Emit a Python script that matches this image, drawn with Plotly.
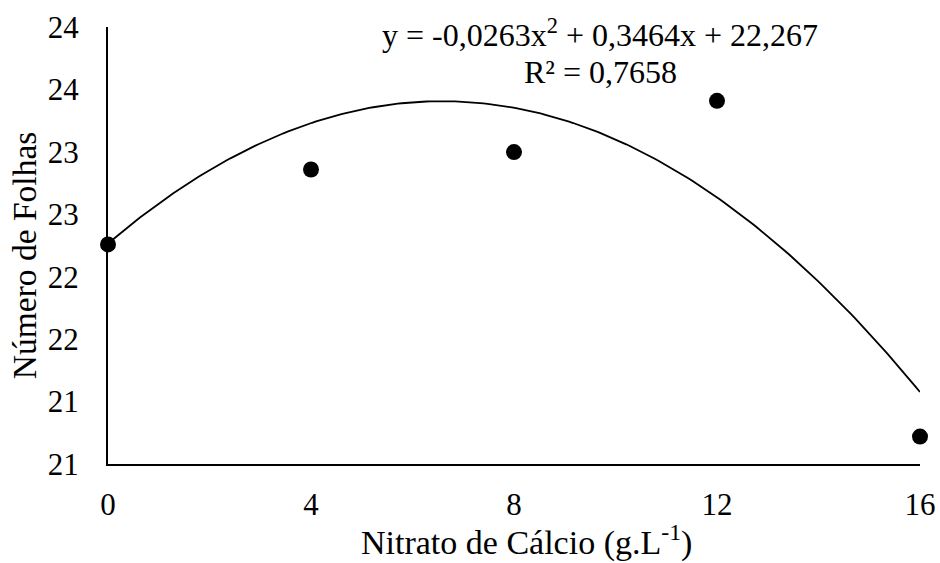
import numpy as np
import plotly.graph_objects as go

# Data
doses = [0, 4, 8, 12, 16]
folhas = [22.26, 22.86, 23.00, 23.41, 20.72]

# Trendline coefficients (as shown in equation)
coef_a = -0.0263
coef_b = 0.3464
coef_c = 22.267

y_tickvals = [20.5, 21.0, 21.5, 22.0, 22.5, 23.0, 23.5, 24.0]
y_ticktext = ["21", "21", "22", "22", "23", "23", "24", "24"]
x_tickvals = [0, 4, 8, 12, 16]

xs = np.linspace(0, 16, 200)
ys = coef_a * xs**2 + coef_b * xs + coef_c

font_family = "Liberation Serif, Times New Roman, serif"

fig = go.Figure()
fig.add_trace(go.Scatter(x=xs, y=ys, mode="lines",
                         line=dict(color="black", width=1.8),
                         showlegend=False, hoverinfo="skip"))
fig.add_trace(go.Scatter(x=doses, y=folhas, mode="markers",
                         marker=dict(color="black", size=16),
                         showlegend=False, cliponaxis=False))

fig.add_annotation(x=0.606, y=0.986, xref="paper", yref="paper",
                   text="y = -0,0263x<sup>2</sup> + 0,3464x + 22,267",
                   showarrow=False, xanchor="center", yanchor="middle",
                   font=dict(family=font_family, size=32, color="black"))
fig.add_annotation(x=0.606, y=0.897, xref="paper", yref="paper",
                   text="R² = 0,7658",
                   showarrow=False, xanchor="center", yanchor="middle",
                   font=dict(family=font_family, size=32, color="black"))

# Axis titles as annotations (positioned as in the reference)
fig.add_annotation(x=-0.1034, y=0.478, xref="paper", yref="paper",
                   text="Número de Folhas", textangle=-90,
                   showarrow=False, xanchor="center", yanchor="middle",
                   font=dict(family=font_family, size=33.5, color="black"))
fig.add_annotation(x=0.516, y=-0.176, xref="paper", yref="paper",
                   text="Nitrato de Cálcio (g.L<sup>-1</sup>)",
                   showarrow=False, xanchor="center", yanchor="middle",
                   font=dict(family=font_family, size=34, color="black"))

fig.update_layout(
    width=940, height=563,
    margin=dict(l=108, r=20, t=27, b=99),
    paper_bgcolor="white", plot_bgcolor="white",
    font=dict(family=font_family, size=31, color="black"),
    xaxis=dict(range=[0, 16], tickvals=x_tickvals, showgrid=False,
               zeroline=False, showline=True, linecolor="black",
               linewidth=2, ticks="", ticklabelstandoff=12,
               automargin=False),
    yaxis=dict(range=[20.5, 24.002], tickvals=y_tickvals, ticktext=y_ticktext,
               showgrid=False, zeroline=False, showline=True,
               linecolor="black", linewidth=2, ticks="",
               ticklabelstandoff=21, automargin=False),
)

fig.write_html("out.html",
               config={"displayModeBar": False},
               post_script="document.body.style.margin='0';document.body.style.overflow='hidden';")
